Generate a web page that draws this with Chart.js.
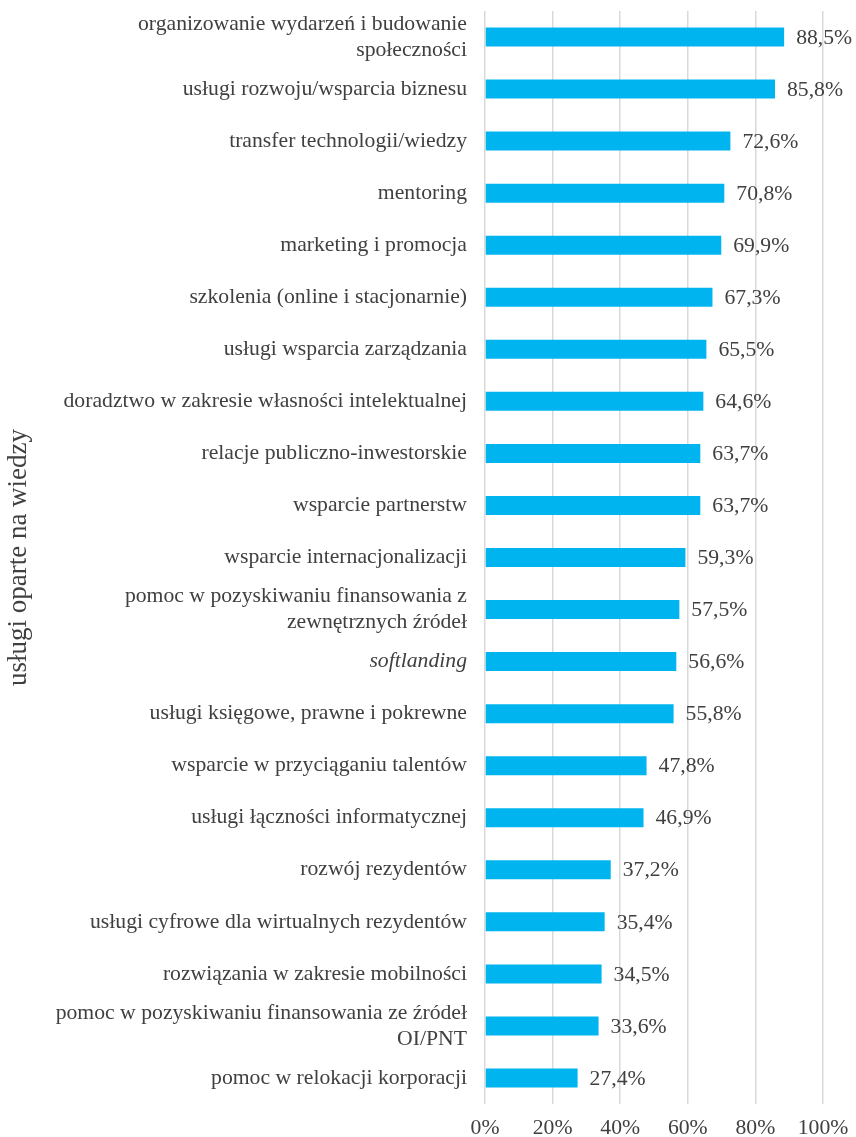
<!DOCTYPE html>
<html>
<head>
<meta charset="utf-8">
<script src="https://cdn.jsdelivr.net/npm/chart.js@4/dist/chart.umd.min.js"></script>
<style>
html,body{margin:0;padding:0;background:#fff;}
#wrap{width:856px;height:1137px;position:relative;}
</style>
</head>
<body>
<div id="wrap"><canvas id="c" width="856" height="1137"></canvas></div>
<script>
const categories = [
  ["organizowanie wydarzeń i budowanie", "społeczności"],
  "usługi rozwoju/wsparcia biznesu",
  "transfer technologii/wiedzy",
  "mentoring",
  "marketing i promocja",
  "szkolenia (online i stacjonarnie)",
  "usługi wsparcia zarządzania",
  "doradztwo w zakresie własności intelektualnej",
  "relacje publiczno-inwestorskie",
  "wsparcie partnerstw",
  "wsparcie internacjonalizacji",
  ["pomoc w pozyskiwaniu finansowania z", "zewnętrznych źródeł"],
  "softlanding",
  "usługi księgowe, prawne i pokrewne",
  "wsparcie w przyciąganiu talentów",
  "usługi łączności informatycznej",
  "rozwój rezydentów",
  "usługi cyfrowe dla wirtualnych rezydentów",
  "rozwiązania w zakresie mobilności",
  ["pomoc w pozyskiwaniu finansowania ze źródeł", "OI/PNT"],
  "pomoc w relokacji korporacji"
];
const values = [88.5, 85.8, 72.6, 70.8, 69.9, 67.3, 65.5, 64.6, 63.7, 63.7, 59.3, 57.5, 56.6, 55.8, 47.8, 46.9, 37.2, 35.4, 34.5, 33.6, 27.4];
const italicIndex = [12];
const axisTitle = "usługi oparte na wiedzy";
const xTicks = [0, 20, 40, 60, 80, 100];

const FONT = "'Liberation Serif', 'Times New Roman', serif";
const TXT = '#404040';
const FS = 21.7;
const fmt = v => v.toFixed(1).replace('.', ',') + '%';

const valueLabels = {
  id: 'valueLabels',
  afterDatasetsDraw(chart) {
    const ctx = chart.ctx;
    const meta = chart.getDatasetMeta(0);
    ctx.save();
    ctx.font = FS + "px " + FONT;
    ctx.fillStyle = TXT;
    ctx.textAlign = 'left';
    ctx.textBaseline = 'middle';
    meta.data.forEach((el, i) => {
      ctx.fillText(fmt(values[i]), el.x + 12, el.y + 1);
    });
    ctx.restore();
  }
};

new Chart(document.getElementById('c'), {
  type: 'bar',
  data: {
    labels: categories,
    datasets: [{
      data: values,
      backgroundColor: '#00B4F0',
      borderWidth: 0,
      barPercentage: 0.73,
      categoryPercentage: 0.5
    }]
  },
  options: {
    indexAxis: 'y',
    responsive: false,
    animation: false,
    layout: { padding: { top: 11, right: 33, left: 0, bottom: 0 } },
    plugins: { legend: { display: false }, tooltip: { enabled: false } },
    scales: {
      x: {
        min: 0, max: 100,
        afterBuildTicks(scale) { scale.ticks = xTicks.map(v => ({ value: v })); },
        afterFit(scale) { scale.height = 33; scale.paddingLeft = 0; scale.paddingRight = 0; },
        grid: { color: '#d9d9d9', lineWidth: 1.5, drawTicks: false },
        border: { display: false },
        ticks: {
          padding: 11,
          color: TXT,
          font: { family: FONT, size: FS },
          callback: v => v + '%'
        }
      },
      y: {
        grid: { display: false },
        border: { display: false },
        afterFit(scale) { scale.width = 485; scale.paddingTop = 0; scale.paddingBottom = 0; },
        ticks: {
          autoSkip: false,
          padding: 10,
          color: TXT,
          font: (c) => ({ family: FONT, size: FS, style: italicIndex.includes(c.index) ? 'italic' : 'normal', lineHeight: 1.2 })
        },
        title: {
          display: true,
          text: axisTitle,
          color: TXT,
          font: { family: FONT, size: 27 },
          padding: { top: 3, bottom: 0 }
        }
      }
    }
  },
  plugins: [valueLabels]
});
</script>
</body>
</html>
